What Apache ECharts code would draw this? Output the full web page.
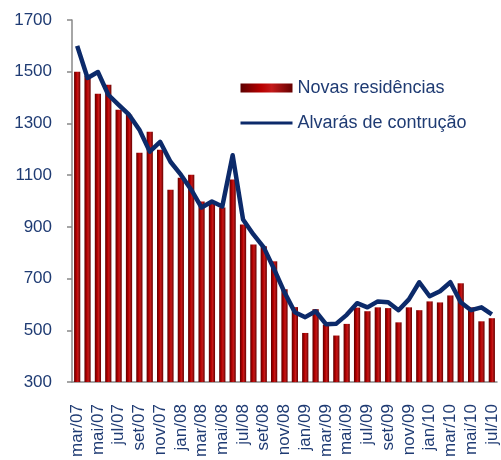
<!DOCTYPE html>
<html>
<head>
<meta charset="utf-8">
<script src="https://cdn.jsdelivr.net/npm/echarts@6/dist/echarts.min.js"></script>
<style>
  html, body { margin: 0; padding: 0; background: #fff; }
  #main { width: 501px; height: 460px; }
</style>
</head>
<body>
<div id="main"></div>
<script>
// meses de mar/07 a jul/10
var months = [
  'mar/07', 'abr/07', 'mai/07', 'jun/07', 'jul/07', 'ago/07', 'set/07', 'out/07', 'nov/07', 'dez/07',
  'jan/08', 'fev/08', 'mar/08', 'abr/08', 'mai/08', 'jun/08', 'jul/08', 'ago/08', 'set/08', 'out/08', 'nov/08', 'dez/08',
  'jan/09', 'fev/09', 'mar/09', 'abr/09', 'mai/09', 'jun/09', 'jul/09', 'ago/09', 'set/09', 'out/09', 'nov/09', 'dez/09',
  'jan/10', 'fev/10', 'mar/10', 'abr/10', 'mai/10', 'jun/10', 'jul/10'
]

var novasResidencias = [
  1500, 1485, 1415, 1450, 1353, 1334, 1187, 1268, 1198, 1044,
  1090, 1102, 998, 998, 975, 1083, 909, 832, 825, 767, 659, 590,
  490, 582, 522, 480, 525, 588, 574, 589, 586, 531, 589, 578,
  612, 608, 635, 682, 589, 535, 547
]

var alvaras = [
  1600, 1476, 1499, 1411, 1372, 1334, 1276, 1191, 1229, 1152,
  1102, 1044, 975, 998, 979, 1177, 929, 871, 821, 736, 647, 570,
  551, 574, 524, 526, 560, 605, 589, 612, 609, 578, 620, 686,
  632, 651, 686, 609, 578, 589, 562
]

var textColor = '#1f3b73'
var font = 'Liberation Sans'

var chart = echarts.init(document.getElementById('main'))

var option = {
  animation: false,
  textStyle: {
    fontFamily: font
  },
  grid: {
    left: 72,
    right: 4,
    top: 20,
    bottom: 77
  },
  legend: {
    orient: 'vertical',
    left: 234,
    top: 74,
    itemWidth: 52,
    itemHeight: 9,
    itemGap: 17,
    textStyle: {
      color: textColor,
      fontSize: 18,
      fontFamily: font
    },
    data: [
      { name: 'Novas residências', icon: 'rect' },
      { name: 'Alvarás de contrução', itemStyle: { opacity: 0 } }
    ],
    lineStyle: {
      width: 3
    }
  },
  xAxis: {
    type: 'category',
    data: months,
    boundaryGap: true,
    axisLine: {
      lineStyle: { color: '#888', width: 1.5 }
    },
    axisTick: {
      interval: 1,
      length: 5,
      lineStyle: { color: '#888', width: 1.5 }
    },
    axisLabel: {
      interval: 1,
      rotate: 90,
      margin: 22,
      color: textColor,
      fontSize: 17,
      fontFamily: font
    }
  },
  yAxis: {
    type: 'value',
    min: 300,
    max: 1700,
    interval: 200,
    splitLine: { show: false },
    axisLine: {
      show: true,
      lineStyle: { color: '#888', width: 1.5 }
    },
    axisTick: {
      show: true,
      length: 5,
      lineStyle: { color: '#888', width: 1.5 }
    },
    axisLabel: {
      margin: 20,
      color: textColor,
      fontSize: 17,
      fontFamily: font,
      formatter: function (v) { return String(v) }
    }
  },
  series: [
    {
      name: 'Novas residências',
      type: 'bar',
      data: novasResidencias,
      barCategoryGap: '40%',
      itemStyle: {
        color: new echarts.graphic.LinearGradient(0, 0, 1, 0, [
          { offset: 0, color: '#5c0000' },
          { offset: 0.4, color: '#b80000' },
          { offset: 0.6, color: '#c41a1a' },
          { offset: 1, color: '#660000' }
        ])
      }
    },
    {
      name: 'Alvarás de contrução',
      type: 'line',
      data: alvaras,
      symbol: 'none',
      z: 5,
      lineStyle: {
        color: '#0c2a6a',
        width: 4.5,
        join: 'round'
      },
      itemStyle: {
        color: '#0c2a6a'
      }
    }
  ]
}

chart.setOption(option)
</script>
</body>
</html>
